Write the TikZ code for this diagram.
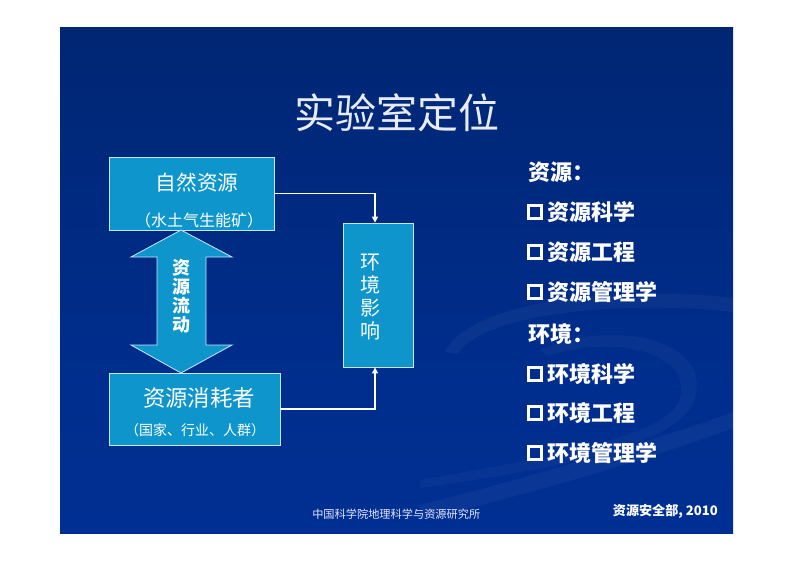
\documentclass[tikz,border=0pt]{standalone}
\usepackage{fontspec}
\setmainfont{Noto Sans CJK SC}
\usetikzlibrary{arrows.meta}

\definecolor{bgtop}{RGB}{1,4,18}
\definecolor{bgup}{RGB}{0,24,78}
\definecolor{bgmid}{RGB}{0,38,115}
\definecolor{bglow}{RGB}{0,46,142}
\definecolor{bgbot}{RGB}{0,50,156}
\definecolor{boxfill}{RGB}{14,150,204}
\definecolor{boxline}{RGB}{200,232,250}
\definecolor{titlecol}{RGB}{232,236,250}
\pgfdeclareverticalshading{slidebg}{100bp}{color(0bp)=(bgbot); color(40bp)=(bglow);
  color(75bp)=(bgmid); color(88bp)=(bgup); color(100bp)=(bgtop)}

\begin{document}
\begin{tikzpicture}[x=0.75pt, y=-0.75pt,
    box/.style={draw=boxline, fill=boxfill, line width=0.6pt, inner sep=0pt},
    flow/.style={white, line width=0.9pt, -{Triangle[length=4.5pt,width=4.5pt]}},
    boxtext/.style={text=white, inner sep=0pt},
    listtext/.style={text=white, anchor=west, inner sep=0pt, font=\bfseries\fontsize{16.5}{18}\selectfont},
    tick/.style={draw=white, line width=2.2pt, minimum size=10pt, inner sep=0pt}]
    \useasboundingbox (0,0) rectangle (793,561);
    \fill[white] (0,0) rectangle (793,561);
    % slide background
    \shade[shading=slidebg] (60,27) rectangle (733,533);
    \begin{scope}
      \clip (60,27) rectangle (733,533);
      \fill[white, opacity=0.04] (445,352) .. controls (470,300) and (620,285) .. (733,298)
        -- (733,312) .. controls (630,300) and (482,312) .. (458,354) -- cycle;
      \fill[white, opacity=0.03] (540,350) .. controls (610,318) and (712,338) .. (695,398)
        .. controls (680,450) and (530,472) .. (420,488) -- (420,480)
        .. controls (520,462) and (668,440) .. (680,398) .. controls (692,350) and (610,335) .. (548,356) -- cycle;
      \fill[white, opacity=0.04] (420,505) .. controls (550,472) and (680,432) .. (733,412)
        -- (733,428) .. controls (680,448) and (550,490) .. (420,520) -- cycle;
    \end{scope}

    \node[text=titlecol, font=\fontsize{30.75}{34}\selectfont] (title) at (397,113) {实验室定位};

    % left diagram
    \node[box, minimum width=123.75pt, minimum height=54.75pt] (ziran) at (191.5,193.5) {};
    \node[box, minimum width=128.25pt, minimum height=54pt] (xiaohao) at (194.5,409) {};
    \node[box, minimum width=52.5pt, minimum height=108pt] (huanjing) at (378,295) {};
    \node[boxtext, font=\fontsize{15.5}{17}\selectfont] (zirantxt) at (197,183) {自然资源};
    \node[boxtext, font=\fontsize{12}{14}\selectfont] (ziransub) at (199,220) {（水土气生能矿）};
    \node[boxtext, font=\fontsize{16.8}{18}\selectfont] (xiaohaotxt) at (199,398) {资源消耗者};
    \node[boxtext, font=\fontsize{10.5}{12}\selectfont] (xiaohaosub) at (195,430) {（国家、行业、人群）};
    \node[boxtext, align=center, font=\fontsize{15}{17.25}\selectfont] (huanjingtxt) at (370,297) {环\\境\\影\\响};

    \filldraw[fill=boxfill, draw=boxline, line width=0.6pt]
      (181,230) -- (232,257) -- (206,257) -- (206,345) -- (232,345) -- (181,373)
      -- (131,345) -- (157,345) -- (157,257) -- (131,257) -- cycle;
    \node[boxtext, align=center, font=\bfseries\fontsize{13.5}{14.25}\selectfont] (liudong) at (181,296) {资\\源\\流\\动};

    \draw[flow] (ziran.east) -| ([xshift=-2.25pt]huanjing.north);
    \draw[flow] (xiaohao.east) -| ([xshift=-2.25pt]huanjing.south);

    % right list
    \node[listtext] (ziyuan) at (528,172) {资源：};
    \node[tick] (t1) at (535,212) {};
    \node[listtext] (zy1) at (547,212) {资源科学};
    \node[tick] (t2) at (535,252) {};
    \node[listtext] (zy2) at (547,252) {资源工程};
    \node[tick] (t3) at (535,292) {};
    \node[listtext] (zy3) at (547,292) {资源管理学};
    \node[listtext] (huan) at (528,334) {环境：};
    \node[tick] (t4) at (535,374) {};
    \node[listtext] (hj1) at (547,374) {环境科学};
    \node[tick] (t5) at (535,413) {};
    \node[listtext] (hj2) at (547,413) {环境工程};
    \node[tick] (t6) at (535,453) {};
    \node[listtext] (hj3) at (547,453) {环境管理学};

    % footer
    \node[text=white!90!blue, anchor=west, inner sep=0pt, font=\fontsize{8.4}{10}\selectfont] (inst) at (312,514) {中国科学院地理科学与资源研究所};
    \node[text=white, anchor=east, inner sep=0pt, font=\bfseries\fontsize{9.8}{11}\selectfont] (dept) at (718,511) {资源安全部, 2010};
\end{tikzpicture}
\end{document}
